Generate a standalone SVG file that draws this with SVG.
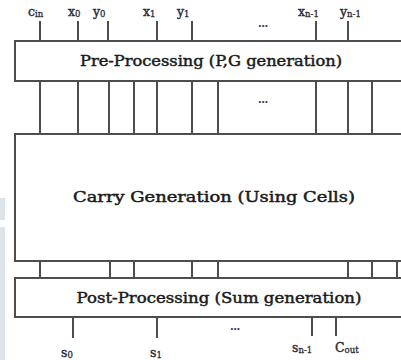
<svg xmlns="http://www.w3.org/2000/svg" width="401" height="360" viewBox="0 0 401 360">
  <style>
    .box { fill: #ffffff; stroke: #4d4d4d; stroke-width: 2; }
    .wire { stroke: #4d4d4d; stroke-width: 2; fill: none; }
    .title { font-family: "DejaVu Serif", "Liberation Serif", serif; font-size: 14px; fill: #1a1a1a; stroke: #1a1a1a; stroke-width: 0.45; }
    .lbl { font-family: "DejaVu Serif", "Liberation Serif", serif; font-size: 12.5px; fill: #2a2a3a; stroke: #2a2a3a; stroke-width: 0.4; }
    .sub { font-size: 8.5px; stroke-width: 0.3; }
    .dots { font-family: "Liberation Serif", serif; font-size: 13px; font-weight: bold; fill: #333355; }
    .side { fill: #dde4e9; }
  </style>

  <rect width="401" height="360" fill="#ffffff"/>
  <!-- pale margin strips on the left -->
  <rect class="side" x="0" y="198" width="5" height="22"/>
  <rect class="side" x="0" y="227" width="5" height="133"/>

  <!-- connectors -->
  <g id="connectors">
    <!-- inputs -->
    <path class="wire" d="M40 21V41 M78 21V41 M108 21V41 M157 21V41 M192 21V41 M316 21V41 M348 21V41"/>
    <!-- P,G buses -->
    <path class="wire" d="M40 81V134 M78 81V134 M109 81V134 M134 81V134 M157 81V134 M192 81V134 M218 81V134 M316 81V134 M348 81V134 M372 81V134"/>
    <!-- carry buses -->
    <path class="wire" d="M40 261V278 M110 261V278 M134 261V278 M192 261V278 M218 261V278 M348 261V278 M372 261V278 M397 261V278"/>
    <!-- sums -->
    <path class="wire" d="M73 317V338 M157 317V338 M312 317V336 M336 317V336"/>
  </g>

  <g id="pre">
    <rect class="box" x="15" y="41" width="400" height="40"/>
    <text class="title" x="211" y="66" text-anchor="middle" textLength="262" lengthAdjust="spacingAndGlyphs">Pre-Processing (P,G generation)</text>
  </g>

  <g id="carry">
    <rect class="box" x="15" y="134" width="400" height="127"/>
    <text class="title" x="214" y="202" text-anchor="middle" textLength="282" lengthAdjust="spacingAndGlyphs">Carry Generation (Using Cells)</text>
  </g>

  <g id="post">
    <rect class="box" x="15" y="278" width="400" height="39"/>
    <text class="title" x="219" y="303" text-anchor="middle" textLength="285" lengthAdjust="spacingAndGlyphs">Post-Processing (Sum generation)</text>
  </g>

  <g id="inputs">
    <text class="lbl" x="28" y="16">c<tspan class="sub" dy="1">in</tspan></text>
    <text class="lbl" x="68" y="16">x<tspan class="sub" dy="1">0</tspan></text>
    <text class="lbl" x="93" y="16">y<tspan class="sub" dy="1">0</tspan></text>
    <text class="lbl" x="143" y="16">x<tspan class="sub" dy="1">1</tspan></text>
    <text class="lbl" x="177" y="16">y<tspan class="sub" dy="1">1</tspan></text>
    <text class="dots" x="263" y="27" text-anchor="middle">...</text>
    <text class="lbl" x="298" y="16">x<tspan class="sub" dy="1">n-1</tspan></text>
    <text class="lbl" x="340" y="16">y<tspan class="sub" dy="1">n-1</tspan></text>
  </g>

  <text class="dots" x="263" y="103" text-anchor="middle">...</text>

  <g id="outputs">
    <text class="lbl" x="61" y="357">s<tspan class="sub" dy="1">0</tspan></text>
    <text class="lbl" x="150" y="357">s<tspan class="sub" dy="1">1</tspan></text>
    <text class="dots" x="235" y="330" text-anchor="middle">...</text>
    <text class="lbl" x="292" y="352">s<tspan class="sub" dy="1">n-1</tspan></text>
    <text class="lbl" x="335" y="352" font-size="14">C<tspan class="sub" dy="1">out</tspan></text>
  </g>
</svg>
